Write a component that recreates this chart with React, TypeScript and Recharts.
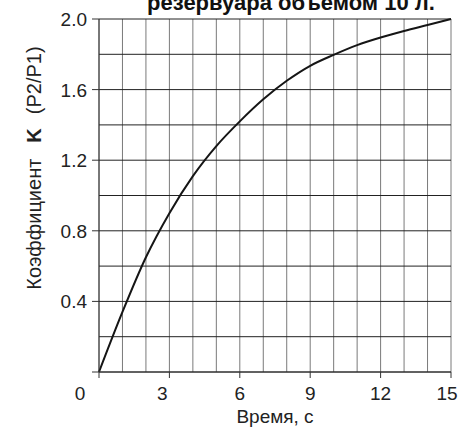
import { LineChart, Line, XAxis, YAxis, CartesianGrid, Label } from "recharts";

// Коэффициент K (P2/P1) в зависимости от времени наполнения
const TIME = [0, 1, 2, 3, 4, 5, 6, 7, 8, 9, 10, 11, 12, 13, 14, 15];
const K_VALUES = [0, 0.34, 0.65, 0.9, 1.11, 1.28, 1.42, 1.545, 1.65, 1.735, 1.797, 1.852, 1.895, 1.932, 1.966, 2.0];
const X_TICKS = [0, 1, 2, 3, 4, 5, 6, 7, 8, 9, 10, 11, 12, 13, 14, 15];
const Y_TICKS = [0, 0.2, 0.4, 0.6, 0.8, 1.0, 1.2, 1.4, 1.6, 1.8, 2.0];

const data = TIME.map((t, i) => ({ t, k: K_VALUES[i] }));

const FONT = "'Liberation Sans', Arial, sans-serif";

// подписи оси X чуть сдвинуты влево (у 0 — в угол)
const X_LABEL_SHIFT: Record<number, number> = { 0: -19, 3: -7, 15: -4 };

function XTick(props: any) {
  const { x, y, payload } = props;
  const v = payload.value as number;
  if (v % 3 !== 0) return null;
  return (
    <g>
      <line x1={x} y1={y} x2={x} y2={y + 6} stroke="#333" strokeWidth={1} />
      <text
        x={x + (X_LABEL_SHIFT[v] ?? 0)}
        y={y + 28}
        textAnchor="middle"
        fontSize={19}
        fontFamily={FONT}
        fill="#222"
      >
        {v}
      </text>
    </g>
  );
}

function YTick(props: any) {
  const { x, y, payload } = props;
  const v = payload.value as number;
  const major = Math.round(v * 10) % 4 === 0;
  if (!major) return null;
  return (
    <g>
      <line x1={x - 7} y1={y} x2={x} y2={y} stroke="#333" strokeWidth={1} />
      {v > 0 && (
        <text
          x={x - 12}
          y={y + 7}
          textAnchor="end"
          fontSize={19}
          fontFamily={FONT}
          fill="#222"
        >
          {v.toFixed(1)}
        </text>
      )}
    </g>
  );
}

function YTitle() {
  return (
    <text
      x={41}
      y={168}
      transform="rotate(-90 41 168)"
      textAnchor="middle"
      fontSize={20}
      fontFamily={FONT}
      fill="#222"
    >
      Коэффициент
      <tspan dx={16} fontWeight="bold">K</tspan>
      <tspan dx={14}>(P2/P1)</tspan>
    </text>
  );
}

function XTitle() {
  return (
    <text x={275} y={423} textAnchor="middle" fontSize={19} fontFamily={FONT} fill="#222">
      Время, с
    </text>
  );
}

export default function App() {
  return (
    <div style={{ position: "absolute", left: 0, top: 0, width: 460, height: 429, background: "#fff" }}>
      <svg width={460} height={30} style={{ position: "absolute", left: 0, top: 0 }}>
        <text
          x={291}
          y={10}
          textAnchor="middle"
          fontSize={22}
          fontWeight="bold"
          fontFamily={FONT}
          fill="#111"
        >
          резервуара объемом 10 л.
        </text>
      </svg>
      <LineChart
        width={460}
        height={429}
        data={data}
        margin={{ top: 19, right: 9, bottom: 0, left: 0 }}
        style={{ position: "absolute", left: 0, top: 0 }}
      >
        <CartesianGrid horizontal={false} vertical stroke="#7a7a7a" strokeWidth={1} />
        <CartesianGrid horizontal vertical={false} stroke="#222" strokeWidth={1} />
        <XAxis
          dataKey="t"
          type="number"
          domain={[0, 15]}
          ticks={X_TICKS}
          interval={0}
          height={57}
          tickLine={false}
          tickSize={0}
          tickMargin={0}
          axisLine={{ stroke: "#333" }}
          tick={<XTick />}
        >
          <Label content={<XTitle />} />
        </XAxis>
        <YAxis
          type="number"
          domain={[0, 2]}
          ticks={Y_TICKS}
          interval={0}
          width={99}
          tickLine={false}
          tickSize={0}
          tickMargin={0}
          axisLine={{ stroke: "#333" }}
          tick={<YTick />}
        >
          <Label content={<YTitle />} />
        </YAxis>
        <Line
          type="monotone"
          dataKey="k"
          stroke="#151515"
          strokeWidth={2}
          dot={false}
          isAnimationActive={false}
        />
      </LineChart>
    </div>
  );
}
